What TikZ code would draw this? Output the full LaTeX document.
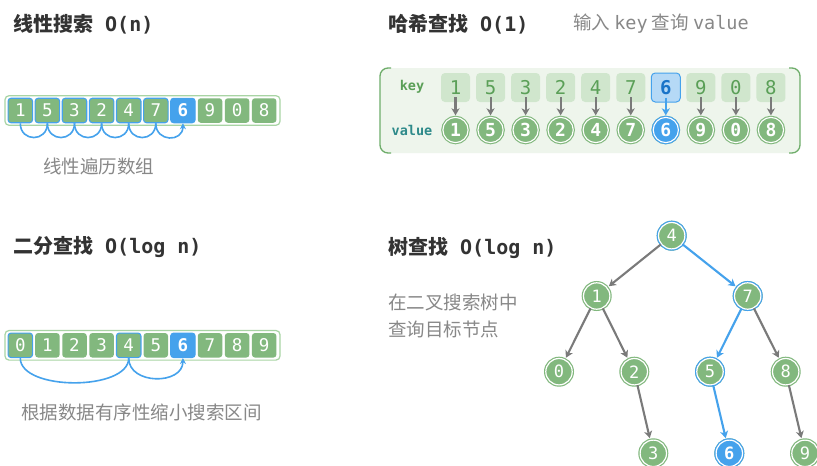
\documentclass[tikz,border=0pt]{standalone}
\usepackage{fontspec}
\setmainfont{Noto Sans CJK SC}
\newfontfamily\monof{DejaVu Sans Mono}
\usetikzlibrary{arrows.meta}
\definecolor{gcol}{HTML}{82B87E}
\definecolor{bcol}{HTML}{45A2EC}
\definecolor{outc}{HTML}{A8D4A4}
\definecolor{titc}{HTML}{333333}
\definecolor{capc}{HTML}{888888}
\definecolor{hfillc}{HTML}{EEF5EC}
\definecolor{hbrc}{HTML}{6EAD6A}
\definecolor{kfillc}{HTML}{D0E6CD}
\definecolor{ktextc}{HTML}{5A9F57}
\definecolor{kblfill}{HTML}{B5D9F6}
\definecolor{kbltext}{HTML}{1A74C8}
\definecolor{vlabc}{HTML}{2E8A8A}
\definecolor{arrc}{HTML}{7A7A7A}
\begin{document}
\begin{tikzpicture}[x=1pt,y=-1pt,
  title/.style={anchor=west, inner sep=0pt, text=titc, font=\fontsize{20}{24}\selectfont\bfseries},
  caption/.style={anchor=west, inner sep=0pt, text=capc, font=\fontsize{18.5}{22}\selectfont},
  outer/.style={draw=outc, line width=1.2pt, fill=white, rounded corners=4pt, inner sep=0pt},
  cell/.style={rectangle, rounded corners=3pt, minimum width=24.5pt, minimum height=24.5pt, inner sep=0pt, fill=gcol, text=white, font=\monof\fontsize{17.5}{19}\selectfont},
  plain/.style={},
  vis/.style={draw=bcol, line width=1.1pt},
  hit/.style={fill=bcol, draw=bcol, line width=1pt, font=\monof\bfseries\fontsize{17.5}{19}\selectfont},
  arcline/.style={draw=bcol, line width=1.6pt},
  arcarrow/.style={draw=bcol, line width=1.6pt, -{Stealth[length=6pt,width=6pt]}},
  kbox/.style={rectangle, rounded corners=4pt, minimum width=29pt, minimum height=29pt, inner sep=0pt, fill=kfillc, text=ktextc, font=\monof\fontsize{19}{21}\selectfont},
  khit/.style={kbox, fill=kblfill, draw=bcol, line width=1pt, text=kbltext, font=\monof\bfseries\fontsize{19}{21}\selectfont},
  vcirc/.style={circle, minimum size=25.2pt, inner sep=0pt, fill=gcol, draw=white, line width=1.1pt, preaction={draw=gcol, line width=3.4pt}, text=white, font=\monof\bfseries\fontsize{18}{20}\selectfont},
  vhit/.style={vcirc, fill=bcol, preaction={draw=bcol, line width=3.4pt}},
  tnode/.style={circle, minimum size=26.4pt, inner sep=0pt, fill=gcol, draw=white, line width=1.2pt, preaction={draw=gcol, line width=3.6pt}, text=white, font=\monof\fontsize{17}{19}\selectfont},
  tblue/.style={tnode, preaction={draw=bcol, line width=3.6pt}},
  thit/.style={tnode, fill=bcol, preaction={draw=bcol, line width=3.6pt}, font=\monof\bfseries\fontsize{17}{19}\selectfont},
  garrow/.style={draw=arrc, line width=2.1pt, -{Stealth[length=7pt,width=8pt,inset=2pt]}},
  barrow/.style={draw=bcol, line width=2.1pt, -{Stealth[length=7pt,width=8pt,inset=2pt]}}
]
\useasboundingbox (0,0) rectangle (817,466);
\fill[white] (0,0) rectangle (817,466);

% ---------- titles ----------
\node[title] (t1) at (13,24) {线性搜索\hspace{12pt}{\monof O(n)}};
\node[title] (t2) at (13,247) {二分查找\hspace{12pt}{\monof O(log n)}};
\node[title] (t3) at (388,24) {哈希查找\hspace{12pt}{\monof O(1)}};
\node[title] (t4) at (388,248) {树查找\hspace{12pt}{\monof O(log n)}};
\node[caption] (s3) at (573,24) {输入 {\monof key} 查询 {\monof value}};

% ---------- linear search ----------
\node[outer, minimum width=275pt, minimum height=29.6pt] (a1) at (142.5,110.5) {};
\foreach \v/\s [count=\i from 0] in {1/vis,5/vis,3/vis,2/vis,4/vis,7/vis,6/hit,9/plain,0/plain,8/plain}
  \node[cell,\s] (p\i) at (20.3+27.1*\i,110.5) {\v};
\foreach \i [evaluate=\i as \j using int(\i+1)] in {0,...,4}
  \draw[arcline] (p\i.south) .. controls +(0,19) and +(0,19) .. (p\j.south);
\draw[arcarrow] (p5.south) .. controls +(0,19) and +(0,19) .. (p6.south);
\node[caption] (c1) at (43,166) {线性遍历数组};

% ---------- binary search ----------
\node[outer, minimum width=275pt, minimum height=29.6pt] (a2) at (142.5,345.3) {};
\foreach \v/\s [count=\i from 0] in {0/vis,1/plain,2/plain,3/plain,4/vis,5/plain,6/hit,7/plain,8/plain,9/plain}
  \node[cell,\s] (q\i) at (20.3+27.1*\i,345.3) {\v};
\draw[arcline] (q0.south) .. controls +(0,33) and +(0,33) .. (q4.south);
\draw[arcarrow] (q4.south) .. controls +(0,27) and +(0,27) .. (q6.south);
\node[caption] (c2) at (21,412) {根据数据有序性缩小搜索区间};

% ---------- hash search ----------
\fill[hfillc, rounded corners=8pt] (380,68) rectangle (800,153);
\draw[hbrc, line width=1.3pt, rounded corners=8pt] (391,68) -- (380,68) -- (380,153) -- (391,153);
\draw[hbrc, line width=1.3pt, rounded corners=8pt] (789,68) -- (800,68) -- (800,153) -- (789,153);
\node[inner sep=0pt, text=ktextc, font=\monof\bfseries\fontsize{13.5}{15}\selectfont] (klab) at (412,87) {key};
\node[inner sep=0pt, text=vlabc, font=\monof\bfseries\fontsize{13.5}{15}\selectfont] (vlab) at (412,130) {value};
\foreach \v/\s/\c/\a [count=\i from 0] in {1/kbox/vcirc/garrow,5/kbox/vcirc/garrow,3/kbox/vcirc/garrow,2/kbox/vcirc/garrow,4/kbox/vcirc/garrow,7/kbox/vcirc/garrow,6/khit/vhit/barrow,9/kbox/vcirc/garrow,0/kbox/vcirc/garrow,8/kbox/vcirc/garrow}{
  \node[\s] (k\i) at (455.5+35.05*\i,87.5) {\v};
  \node[\c] (v\i) at (455.5+35.05*\i,130) {\v};
  \draw[\a, shorten <=-5pt, shorten >=1.5pt] (k\i.south) -- (v\i.north);
}

% ---------- tree search ----------
\node[tblue] (n4) at (671.7,235.7) {4};
\node[tnode] (n1) at (596.7,296) {1};
\node[tblue] (n7) at (747.7,296) {7};
\node[tnode] (n0) at (559,371.7) {0};
\node[tnode] (n2) at (634.3,371.7) {2};
\node[tblue] (n5) at (710,371.7) {5};
\node[tnode] (n8) at (785.7,371.7) {8};
\node[tnode] (n3) at (653.3,453.3) {3};
\node[thit] (n6) at (729.3,453.3) {6};
\node[tnode] (n9) at (805,453.3) {9};
\draw[garrow, shorten >=1.8pt] (n4) -- (n1);
\draw[barrow, shorten >=1.8pt] (n4) -- (n7);
\draw[garrow, shorten >=1.8pt] (n1) -- (n0);
\draw[garrow, shorten >=1.8pt] (n1) -- (n2);
\draw[barrow, shorten >=1.8pt] (n7) -- (n5);
\draw[garrow, shorten >=1.8pt] (n7) -- (n8);
\draw[garrow, shorten >=1.8pt] (n2) -- (n3);
\draw[barrow, shorten >=1.8pt] (n5) -- (n6);
\draw[garrow, shorten >=1.8pt] (n8) -- (n9);
\node[caption] (c4a) at (388,302) {在二叉搜索树中};
\node[caption] (c4b) at (388,329) {查询目标节点};
\end{tikzpicture}
\end{document}
